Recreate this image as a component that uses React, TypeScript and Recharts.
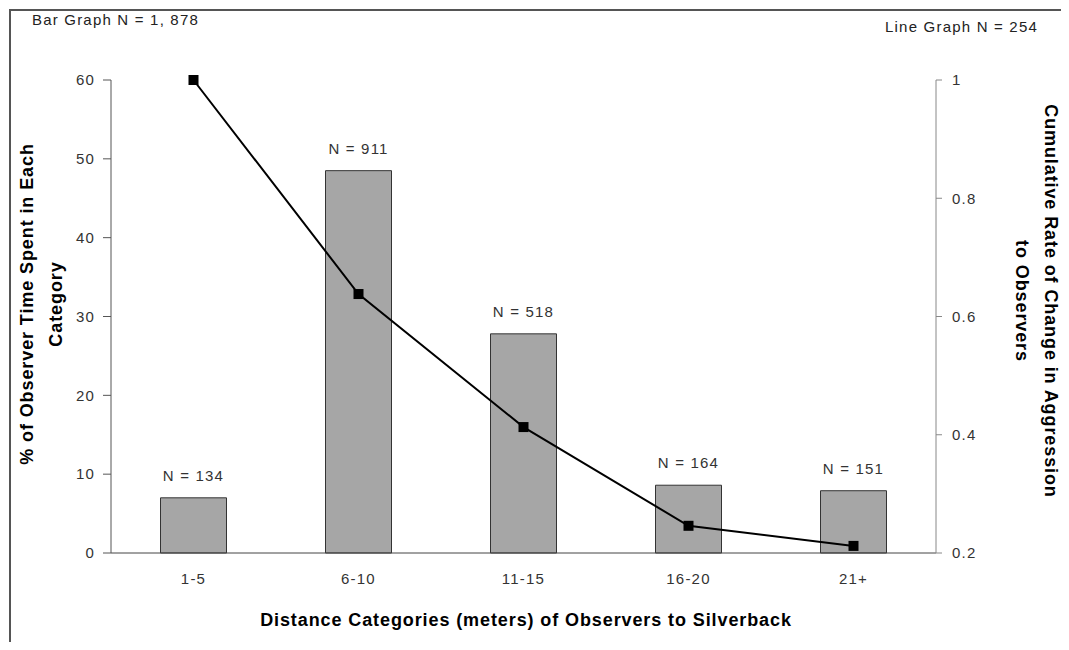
import React from 'react'
import { ComposedChart, Bar, Line, XAxis, YAxis, LabelList } from 'recharts'

const categories = ['1-5', '6-10', '11-15', '16-20', '21+']
const timePercent = [7.0, 48.5, 27.8, 8.6, 7.9]
const barCounts = [134, 911, 518, 164, 151]
const cumulativeRate = [1.0, 0.638, 0.413, 0.246, 0.212]
const leftTicks = [0, 10, 20, 30, 40, 50, 60]
const rightTicks = [0.2, 0.4, 0.6, 0.8, 1]

const data = categories.map((cat, i) => ({
  cat,
  pct: timePercent[i],
  n: barCounts[i],
  rate: cumulativeRate[i],
}))

const FONT = '"Liberation Sans", Arial, sans-serif'
const tickStyle = { fill: '#333', fontSize: 15, fontFamily: FONT, letterSpacing: 1.2 }
const titleStyle: React.CSSProperties = {
  position: 'absolute',
  whiteSpace: 'nowrap',
  textAlign: 'center',
  fontWeight: 'bold',
  fontSize: 18,
  letterSpacing: 0.9,
  lineHeight: '29px',
  color: '#000',
}

const SquareDot = (props: { cx?: number; cy?: number; index?: number }) => {
  const { cx, cy, index } = props
  if (cx == null || cy == null) return null
  return <rect key={index} x={cx - 5} y={cy - 5} width={10} height={10} fill="#000" />
}

export default function App() {
  return (
    <div style={{ position: 'relative', margin: -8, width: 1069, height: 650, overflow: 'hidden', background: '#fff', fontFamily: FONT }}>
      <div style={{ position: 'absolute', left: 0, top: 0 }}>
        <ComposedChart width={1069} height={650} data={data} margin={{ top: 80, right: 0, bottom: 67, left: 0 }} barCategoryGap="30%">
          <XAxis
            dataKey="cat"
            height={30}
            tickLine={false}
            axisLine={{ stroke: '#444' }}
            tick={tickStyle}
            tickMargin={14}
          />
          <YAxis
            yAxisId="left"
            width={111}
            domain={[0, 60]}
            ticks={leftTicks}
            interval={0}
            tickSize={8}
            tickMargin={8}
            axisLine={{ stroke: '#555' }}
            tickLine={{ stroke: '#555' }}
            tick={tickStyle}
          />
          <YAxis
            yAxisId="right"
            orientation="right"
            width={133}
            domain={[0.2, 1]}
            ticks={rightTicks}
            interval={0}
            tickSize={6}
            tickMargin={10}
            tickFormatter={(v: number) => (v === 1 ? '1' : String(v))}
            axisLine={{ stroke: '#888' }}
            tickLine={{ stroke: '#888' }}
            tick={tickStyle}
          />
          <Bar yAxisId="left" dataKey="pct" fill="#a6a6a6" stroke="#333" strokeWidth={1} isAnimationActive={false}>
            <LabelList
              dataKey="n"
              position="top"
              offset={17}
              fill="#333"
              formatter={(v: number) => `N = ${v}`}
              style={{ fill: '#333', fontSize: 15, fontFamily: FONT, letterSpacing: 1.2 }}
            />
          </Bar>
          <Line
            yAxisId="right"
            dataKey="rate"
            type="linear"
            stroke="#000"
            strokeWidth={2}
            dot={<SquareDot />}
            activeDot={false}
            isAnimationActive={false}
          />
        </ComposedChart>
      </div>

      {/* outer frame: only its left and top edges fall inside the picture */}
      <div style={{ position: 'absolute', left: 9, top: 9, width: 2, height: 641, background: '#555' }} />
      <div style={{ position: 'absolute', left: 9, top: 9, width: 1060, height: 2, background: '#555' }} />

      <div style={{ position: 'absolute', left: 32, top: 11, fontSize: 15, letterSpacing: 1.2, color: '#222' }}>Bar Graph N = 1, 878</div>
      <div style={{ position: 'absolute', right: 31, top: 18, fontSize: 15, letterSpacing: 1.2, color: '#222' }}>Line Graph N = 254</div>

      <div style={{ ...titleStyle, left: 42, top: 304, transform: 'translate(-50%, -50%) rotate(-90deg)' }}>
        % of Observer Time Spent in Each
        <br />
        Category
      </div>
      <div style={{ ...titleStyle, left: 1036, top: 301, transform: 'translate(-50%, -50%) rotate(90deg)' }}>
        Cumulative Rate of Change in Aggression
        <br />
        to Observers
      </div>
      <div style={{ ...titleStyle, left: 526, top: 620, transform: 'translate(-50%, -50%)' }}>
        Distance Categories (meters) of Observers to Silverback
      </div>
    </div>
  )
}
